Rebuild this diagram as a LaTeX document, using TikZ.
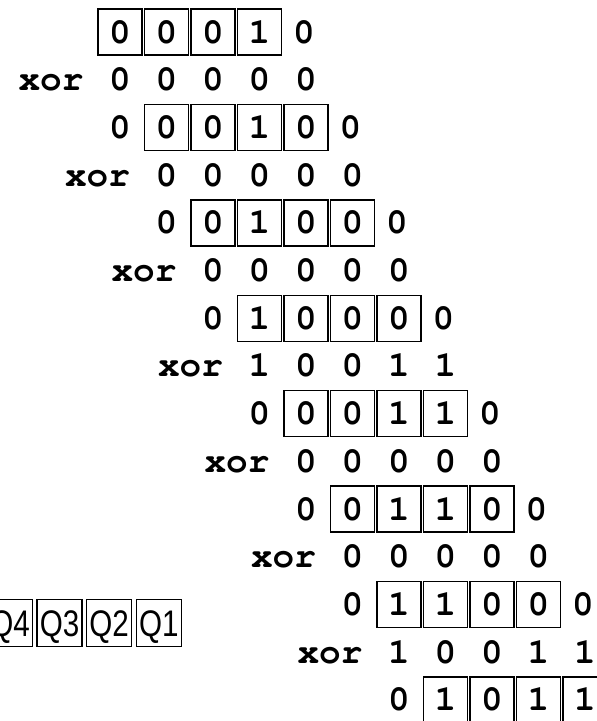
\documentclass[tikz,border=0pt]{standalone}
\usepackage{fontspec}
\newfontfamily\qfont[FakeStretch=0.8]{Liberation Sans}
\newcommand\courfont{\fontencoding{T1}\fontfamily{pcr}\fontseries{b}\selectfont}
\begin{document}
\begin{tikzpicture}[x=1pt,y=-1pt,
  bit/.style={font=\fontencoding{T1}\fontfamily{pcr}\fontseries{b}\fontsize{36}{36}\selectfont, inner sep=0pt, text height=22pt, text depth=0pt},
  bitbox/.style={bit, draw, line width=1.4pt, minimum width=44pt, minimum height=46pt},
  qbox/.style={draw, line width=1.4pt, minimum width=45pt, minimum height=47pt, inner sep=0pt,
    font=\qfont\fontsize{37}{37}\selectfont, text height=26pt, text depth=0pt}]
\clip (0,0) rectangle (597,721);
\useasboundingbox (0,0) rectangle (597,721);
\fill[white] (0,0) rectangle (597,721);
% box rows
\foreach \r/\a/\b/\c/\d in {0/0/0/0/1, 1/0/0/1/0, 2/0/1/0/0, 3/1/0/0/0, 4/0/0/1/1, 5/0/1/1/0, 6/1/1/0/0, 7/1/0/1/1} {
  \pgfmathsetmacro\yc{32+2*\r*47.7}
  \foreach \v [count=\i from 0] in {\a,\b,\c,\d} {
    \node[bitbox] (bx\r-\i) at ({120+46.5*(\r+\i)},\yc) {\v};
  }
  \ifnum\r>0
    \node[bit] (lead\r) at ({120+46.5*(\r-1)},\yc) {0};
  \fi
  \ifnum\r<7
    \node[bit] (trail\r) at ({120+46.5*(\r+4)-2},\yc) {0};
  \fi
}
% xor rows
\foreach \r/\a/\b/\c/\d/\e in {0/0/0/0/0/0, 1/0/0/0/0/0, 2/0/0/0/0/0, 3/1/0/0/1/1, 4/0/0/0/0/0, 5/0/0/0/0/0, 6/1/0/0/1/1} {
  \pgfmathsetmacro\yc{32+(2*\r+1)*47.7}
  \node[bit] (xor\r) at ({120+46.5*\r-69},\yc) {xor};
  \foreach \v [count=\i from 0] in {\a,\b,\c,\d,\e} {
    \node[bit] (x\r-\i) at ({120+46.5*(\r+\i)},\yc) {\v};
  }
}
% register labels
\node[qbox] (q4) at (10,623) {Q4};
\node[qbox] (q3) at (59.6,623) {Q3};
\node[qbox] (q2) at (109.2,623) {Q2};
\node[qbox] (q1) at (158.8,623) {Q1};
\end{tikzpicture}
\end{document}
